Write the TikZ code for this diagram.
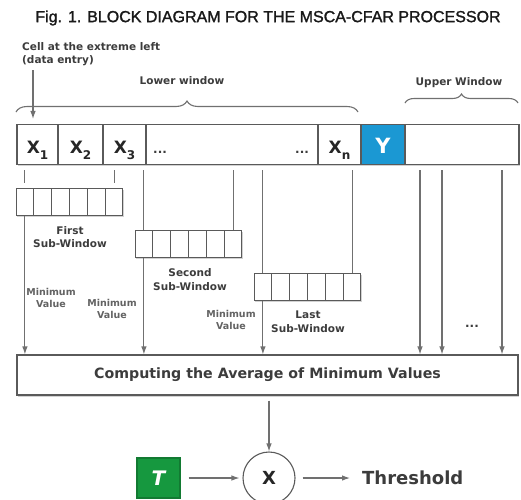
\documentclass[tikz,border=0pt]{standalone}
\usepackage{fontspec}
\setmainfont{DejaVu Sans}
\newfontfamily\titlefont[FakeBold=1.4]{Liberation Sans}
\usetikzlibrary{arrows.meta,positioning,calc,shadows,decorations.pathreplacing}
\definecolor{mLine}{HTML}{707070}
\definecolor{mBox}{HTML}{5A5A5A}
\definecolor{mText}{HTML}{3C3C3C}
\definecolor{mBlue}{HTML}{1B98D3}
\definecolor{mGreen}{HTML}{16983F}
\newcommand{\xsub}[1]{X\raisebox{-6pt}{\fontsize{12}{12}\selectfont #1}}
\tikzset{
  bx/.style   = {draw=mBox, fill=white, line width=1.1pt, inner sep=0pt},
  cl/.style   = {bx, minimum height=40pt, font=\bfseries\fontsize{17}{17}\selectfont,
                 text=black!85, text height=17pt, text depth=0pt},
  sub/.style  = {draw=mBox, fill=white, line width=1pt, minimum width=17.83pt,
                 minimum height=27pt, inner sep=0pt},
  shd/.style  = {drop shadow={shadow xshift=1pt, shadow yshift=-1.5pt, opacity=0.35}},
  ln/.style   = {draw=mLine, line width=1.1pt},
  ar/.style   = {-{Latex[length=8pt,width=5.5pt]}, draw=mLine, line width=1.1pt},
  lbl/.style  = {font=\bfseries\fontsize{10.5}{13.5}\selectfont, text=mText, align=center, inner sep=0pt},
  mv/.style   = {font=\bfseries\fontsize{9.5}{12}\selectfont, text=mText!80, align=center, inner sep=0pt},
  br/.style   = {decorate, draw=mLine, line width=1.1pt},
  dts/.style  = {font=\bfseries\fontsize{12}{12}\selectfont, text=mText, inner sep=0pt},
}

\begin{document}
\begin{tikzpicture}[x=1pt, y=-1pt]
  \fill[white] (0,0) rectangle (521,499);
  \useasboundingbox (0,0) rectangle (521,499);
  \node[font=\titlefont\fontsize{16}{18}\selectfont, text=black!90] (title) at (268,18)
    {Fig. 1. BLOCK DIAGRAM FOR THE MSCA-CFAR PROCESSOR};
  % top labels and braces
  \node[lbl, anchor=north west, align=left] (cell) at (22,42) {Cell at the extreme left\\(data entry)};
  \node[lbl] (lw) at (182,81) {Lower window};
  \node[lbl] (uw) at (459,83) {Upper Window};
  \draw[br, decoration={brace, amplitude=11pt}] (16,112) -- (358,112);
  \draw[br, decoration={brace, amplitude=9pt}] (405,103) -- (518,103);
  % cell row
  \foreach \n/\a/\b/\t in {c1/17/58/{\xsub{1}}, c2/58/103/{\xsub{2}}, c3/103/146/{\xsub{3}},
                           cd/146/318/{}, cn/318/361/{\xsub{n}}}
    \node[cl, shd, minimum width={(\b-\a)*1pt}] (\n) at ({(\a+\b)/2},144.5) {\t};
  \node[cl, shd, fill=mBlue, text=white, minimum width=44pt,
        font=\bfseries\fontsize{21}{21}\selectfont] (cy) at (383,144.5) {Y};
  \node[cl, shd, minimum width=114pt] (cu) at (462,144.5) {};
  \node[dts, anchor=base west] (d1) at (153,153) {...};
  \node[dts, anchor=base west] (d2) at (295,153) {...};
  \coordinate (cin) at (33,70);
  \draw[ar, shorten >=5pt] (cin) -- (cin |- c1.north);
  % sub-windows
  \foreach \w/\x/\y in {1/16/201.5, 2/135/243.5, 3/254/286.5}
    \foreach \k in {0,...,5}
      \node[sub, shd] (w\w-\k) at ({\x+17.83*\k+8.915},\y) {};
  \foreach \k in {0,5}
    \draw[ln] ($(w1-\k.north |- c1.south)+(0,5)$) -- ($(w1-\k.north)+(0,-5)$);
  \foreach \w in {2,3}
    \foreach \k in {0,5}
      \draw[ln] ($(w\w-\k.north |- c1.south)+(0,5)$) -- (w\w-\k.north);
  \node[lbl] (fl) at (70,237) {First\\Sub-Window};
  \node[lbl] (sl) at (190,279.5) {Second\\Sub-Window};
  \node[lbl] (ll) at (308,321.5) {Last\\Sub-Window};
  \node[mv] (m1) at (51,298) {Minimum\\Value};
  \node[mv] (m2) at (112,308.5) {Minimum\\Value};
  \node[mv] (m3) at (231,319.5) {Minimum\\Value};
  % average block
  \node[bx, shd, minimum width=501pt, minimum height=40pt, text=mText,
        font=\bfseries\fontsize{14.2}{16}\selectfont] (comp) at (267.5,375)
    {Computing the Average of Minimum Values};
  \foreach \w in {1,2,3}
    \draw[ar] (w\w-0.south) -- (w\w-0.south |- comp.north);
  \foreach \x [count=\i] in {420,442,502} {
    \coordinate (u\i) at (\x,170);
    \draw[ar] (u\i) -- (u\i |- comp.north);
  }
  \node[dts] (d3) at (472,326) {...};
  % threshold
  \node[circle, draw=mBox, line width=1.1pt, fill=white, minimum size=52pt, inner sep=0pt,
        font=\bfseries\fontsize{18}{18}\selectfont, text=black!85] (mult) at (269,478) {X};
  \node[bx, fill=mGreen, draw=mGreen!80!black, minimum width=43pt, minimum height=40pt,
        text=white, font=\bfseries\itshape\fontsize{20}{20}\selectfont] (tb) at (158.5,478) {T};
  \node[font=\bfseries\fontsize{18}{18}\selectfont, text=mText, inner sep=0pt, anchor=west]
    (thr) at (362,478) {Threshold};
  \draw[ar, shorten <=5pt] (comp.south -| mult.north) -- (mult.north);
  \draw[ar, shorten <=8pt, shorten >=3pt] (tb.east) -- (mult.west);
  \draw[ar, shorten <=7pt, shorten >=12pt] (mult.east) -- (thr.west);
\end{tikzpicture}
\end{document}
